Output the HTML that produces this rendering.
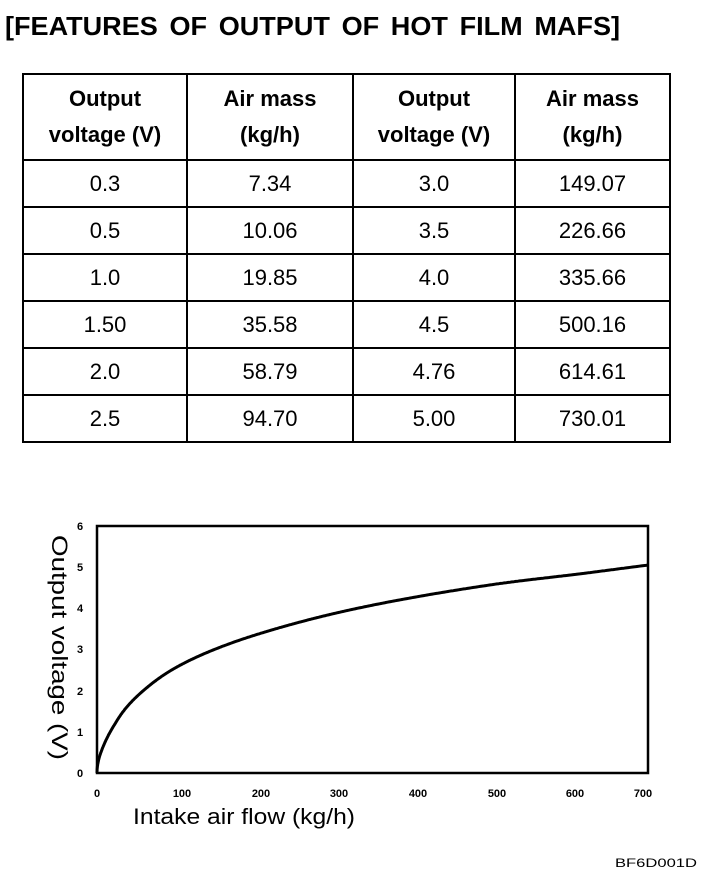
<!DOCTYPE html>
<html><head><meta charset="utf-8"><style>
body{margin:0;width:704px;height:886px;background:#fff;position:relative;font-family:"Liberation Sans",sans-serif;color:#000;overflow:hidden}
table{position:absolute;left:22px;top:73px;border-collapse:collapse;table-layout:fixed}
td{border:2px solid #000;text-align:center;font-size:22px;padding:0;height:45px}
tr.h td{font-weight:bold;font-size:22px;height:84px;line-height:36px}
</style></head><body>
<table>
<colgroup><col style="width:164px"><col style="width:166px"><col style="width:162px"><col style="width:155px"></colgroup>
<tr class="h"><td>Output<br>voltage (V)</td><td>Air mass<br>(kg/h)</td><td>Output<br>voltage (V)</td><td>Air mass<br>(kg/h)</td></tr>
<tr><td>0.3</td><td>7.34</td><td>3.0</td><td>149.07</td></tr>
<tr><td>0.5</td><td>10.06</td><td>3.5</td><td>226.66</td></tr>
<tr><td>1.0</td><td>19.85</td><td>4.0</td><td>335.66</td></tr>
<tr><td>1.50</td><td>35.58</td><td>4.5</td><td>500.16</td></tr>
<tr><td>2.0</td><td>58.79</td><td>4.76</td><td>614.61</td></tr>
<tr><td>2.5</td><td>94.70</td><td>5.00</td><td>730.01</td></tr>
</table>
<svg width="704" height="886" style="position:absolute;left:0;top:0">
<text x="5" y="35" font-family="Liberation Sans" font-weight="bold" font-size="26" textLength="615" lengthAdjust="spacingAndGlyphs" word-spacing="4">[FEATURES OF OUTPUT OF HOT FILM MAFS]</text>
<rect x="97" y="526" width="551" height="247" fill="none" stroke="#000" stroke-width="2.5"/>
<polyline id="c" fill="none" stroke="#000" stroke-width="3" stroke-linejoin="round" points=""/>
<g font-family="Liberation Sans" font-weight="bold" font-size="11" text-anchor="middle">
<text x="80" y="530">6</text><text x="80" y="571">5</text><text x="80" y="612">4</text><text x="80" y="653">3</text><text x="80" y="695">2</text><text x="80" y="736">1</text><text x="80" y="777">0</text>
<text x="97" y="797">0</text><text x="182" y="797">100</text><text x="261" y="797">200</text><text x="339" y="797">300</text><text x="418" y="797">400</text><text x="497" y="797">500</text><text x="575" y="797">600</text><text x="643" y="797">700</text>
</g>
<text x="133" y="824" font-family="Liberation Sans" font-size="22" textLength="222" lengthAdjust="spacingAndGlyphs">Intake air flow (kg/h)</text>
<text transform="translate(52,535) rotate(90)" font-family="Liberation Sans" font-size="22" textLength="225" lengthAdjust="spacingAndGlyphs">Output voltage (V)</text>
<text x="615" y="867" font-family="Liberation Sans" font-size="12" textLength="82" lengthAdjust="spacingAndGlyphs">BF6D001D</text>
</svg>
<script>
var d=[[0,0],[1.5,0.27],[7.34,0.62],[19.85,1.1],[35.58,1.55],[58.79,2.0],[94.70,2.5],[149.07,3.0],[226.66,3.5],[335.66,4.02],[500.16,4.57],[614.61,4.84],[700,5.05]];
var s=d.map(function(p){return [Math.sqrt(p[0]),p[1]];});
function v(m){var q=Math.sqrt(m);for(var i=1;i<s.length;i++){if(q<=s[i][0]){var a=s[i-1],b=s[i],t=(q-a[0])/(b[0]-a[0]);
var x0=i>1?s[i-2]:a,x3=i<s.length-1?s[i+1]:b;
var m1=(b[1]-x0[1])/(b[0]-x0[0]||1),m2=(x3[1]-a[1])/(x3[0]-a[0]||1),h=b[0]-a[0];
var t2=t*t,t3=t2*t;return (2*t3-3*t2+1)*a[1]+(t3-2*t2+t)*h*m1+(-2*t3+3*t2)*b[1]+(t3-t2)*h*m2;}}return 5.05;}
var pts=[];for(var k=0;k<=500;k++){var q=Math.sqrt(700)*k/500,m=q*q;pts.push((97+m*0.7871).toFixed(1)+","+(773-v(m)*41.17).toFixed(1));}
document.getElementById("c").setAttribute("points",pts.join(" "));
</script>
</body></html>
